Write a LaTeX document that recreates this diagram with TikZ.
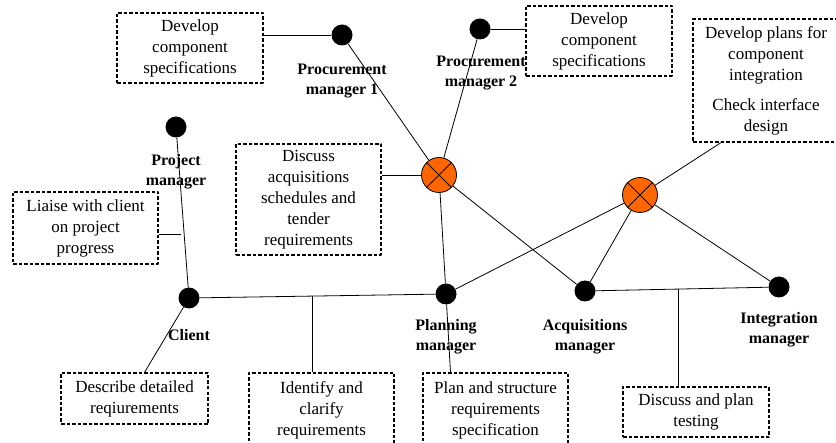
\documentclass[tikz,border=0pt]{standalone}
\usepackage{fontspec}
\setmainfont{Liberation Serif}
\usepackage{tikz}
\usetikzlibrary{positioning}
\definecolor{hubOrange}{HTML}{FF6600}

\begin{document}
\begin{tikzpicture}[line join=bevel,
  actor/.style={circle,fill=black,inner sep=0pt,minimum size=21bp},
  hub/.style={circle,draw=black,line width=0.8bp,fill=hubOrange,inner sep=0pt,minimum size=35bp,
    path picture={\draw[line width=0.8bp] (path picture bounding box.north west) -- (path picture bounding box.south east)
      (path picture bounding box.north east) -- (path picture bounding box.south west);}},
  task/.style={draw=black,line width=1.2bp,dash pattern=on 3.5bp off 2bp,align=center,
    minimum width=146bp,inner sep=2bp,font=\fontsize{17bp}{21bp}\selectfont},
  role/.style={align=center,font=\fontsize{16bp}{20bp}\selectfont\bfseries},
  link/.style={black,line width=0.8bp}]
\useasboundingbox (0bp,0bp) rectangle (836bp,443bp);
%%
\node (pm1) at (342bp,408bp) [actor] {};
  \node (pm2) at (480bp,414bp) [actor] {};
  \node (proj) at (176bp,316bp) [actor] {};
  \node (client) at (189bp,145bp) [actor] {};
  \node (planning) at (446bp,149bp) [actor] {};
  \node (acq) at (585bp,152bp) [actor] {};
  \node (integ) at (779bp,156bp) [actor] {};
  \node (hub1) at (439bp,268bp) [hub] {};
  \node (hub2) at (640bp,248bp) [hub] {};
%
\node (pm1lbl) at (342bp,362bp) [role] {Procurement\\manager 1};
  \node (pm2lbl) at (481bp,370bp) [role] {Procurement\\manager 2};
  \node (projlbl) at (176bp,271bp) [role] {Project\\manager};
  \node (clientlbl) at (189bp,108bp) [role] {Client};
  \node (planninglbl) at (446bp,106bp) [role] {Planning\\manager};
  \node (acqlbl) at (585bp,106bp) [role] {Acquisitions\\manager};
  \node (integlbl) at (779bp,113bp) [role] {Integration\\manager};
%
\node (dev1) at (190bp,395bp) [task,minimum height=70bp] {Develop\\component\\specifications};
  \node (dev2) at (599bp,402bp) [task,minimum height=70bp] {Develop\\component\\specifications};
  \node (plans) at (766bp,362.5bp) [task,minimum height=123bp] {Develop plans for\\component\\integration\\[9bp]Check interface\\design};
  \node (discuss) at (308.5bp,243.5bp) [task,minimum width=145bp,minimum height=111bp] {Discuss\\acquisitions\\schedules and\\tender\\requirements};
  \node (liaise) at (85.5bp,215bp) [task,minimum width=145bp,minimum height=72bp] {Liaise with client\\on project\\progress};
  \node (describe) at (134.5bp,44.5bp) [task,minimum width=147bp,minimum height=51bp] {Describe detailed\\reqiurements};
  \node (identify) at (321.5bp,33bp) [task,minimum width=145bp,minimum height=74bp] {Identify and\\clarify\\requirements};
  \node (planbox) at (495.5bp,33bp) [task,minimum width=145bp,minimum height=74bp] {Plan and structure\\requirements\\specification};
  \node (testing) at (696bp,31bp) [task,minimum height=50bp] {Discuss and plan\\testing};
%
\coordinate (liaiseJoin) at (181bp,209bp);
  \coordinate (clientJoin) at (312bp,147bp);
  \coordinate (testJoin) at (678bp,154bp);
  \coordinate (plansFoot) at ([xshift=-45bp]plans.south);
  \coordinate (describeTop) at ([xshift=10bp]describe.north);
  \coordinate (planboxTop) at ([xshift=-45bp]planbox.north);
%
\draw [link] (dev1.east |- pm1) -- (pm1);
  \draw [link] (pm2) -- (dev2.west |- pm2);
  \draw [link] (pm1) -- (hub1);
  \draw [link] (pm2) -- (hub1);
  \draw [link] (discuss.east |- hub1) -- (hub1);
  \draw [link] (hub1) -- (planning);
  \draw [link] (hub1) -- (acq);
  \draw [link] (planning) -- (hub2);
  \draw [link] (acq) -- (hub2);
  \draw [link] (hub2) -- (integ);
  \draw [link] (hub2) -- (plansFoot);
  \draw [link] (proj) -- (client);
  \draw [link] (liaise.east |- liaiseJoin) -- (liaiseJoin);
  \draw [link] (client) -- (planning);
  \draw [link] (clientJoin) -- (identify.north -| clientJoin);
  \draw [link] (client) -- (describeTop);
  \draw [link] (planning) -- (planboxTop);
  \draw [link] (acq) -- (integ);
  \draw [link] (testJoin) -- (testing.north -| testJoin);
%
\end{tikzpicture}
\end{document}
